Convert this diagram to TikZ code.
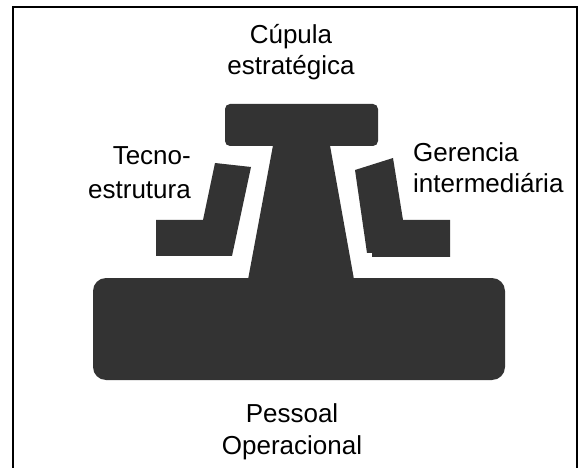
\documentclass[tikz,border=0pt]{standalone}
\usepackage{fontspec}
\setmainfont{Liberation Sans}
\usetikzlibrary{positioning}

\definecolor{blockgray}{HTML}{333333}
\tikzset{
  part/.style={fill=blockgray},
  parttext/.style={inner sep=0pt, font=\fontsize{26}{31}\selectfont},
}

\begin{document}
\begin{tikzpicture}[x=1pt,y=-1pt]
\useasboundingbox (0,0) rectangle (579,468);
\draw[line width=2](13,468) -- (13,7) -- (577,7) -- (577,468);
% strategic apex and middle line
\fill[part, rounded corners=5](225,104) rectangle (378,146);
\fill[part](274,140) -- (329,140) -- (355,285) -- (247,285) -- cycle;
% operating core
\fill[part, rounded corners=13](93,278) rectangle (505,380);
% technostructure
\fill[part](215,163) -- (251,167) -- (232,256) -- (156,256) -- (156,220) -- (203,220) -- cycle;
% middle management
\fill[part](355,170) -- (393,158) -- (403,220) -- (450,220) -- (450,257) -- (372,257) -- (372,253) -- (367,253) -- cycle;
\node[parttext, anchor=base, align=center] (apex) at (291,75) {Cúpula\\estratégica};
\node[parttext, anchor=base east, align=right] (techno) at (191,199) {Tecno-\\[3pt]estrutura};
\node[parttext, anchor=base west, align=left] (middle) at (413,193) {Gerencia\\intermediária};
\node[parttext, anchor=base, align=center] (core) at (292,454) {Pessoal\\[1pt]Operacional};
\end{tikzpicture}
\end{document}
